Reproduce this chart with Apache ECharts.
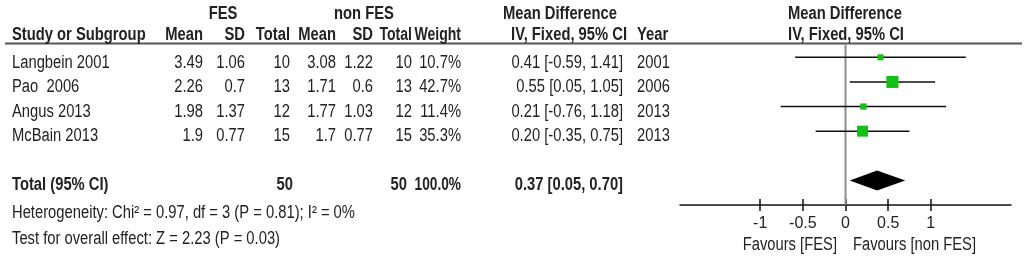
<!DOCTYPE html>
<html>
<head>
<meta charset="utf-8">
<title>Forest plot FES vs non FES</title>
<script src="https://cdn.jsdelivr.net/npm/echarts@6/dist/echarts.min.js"></script>
<style>html,body{margin:0;padding:0;background:#fff;}</style>
</head>
<body>
<div id="main" style="width:1026px;height:263px;"></div>
<script>
// study data
var studies = ['Langbein 2001', 'Pao  2006', 'Angus 2013', 'McBain 2013'];
var fesMean = [3.49, 2.26, 1.98, 1.9];
var fesSD = [1.06, 0.7, 1.37, 0.77];
var fesTotal = [10, 13, 12, 15];
var nonMean = [3.08, 1.71, 1.77, 1.7];
var nonSD = [1.22, 0.6, 1.03, 0.77];
var nonTotal = [10, 13, 12, 15];
var weights = [10.7, 42.7, 11.4, 35.3];
var md = [0.41, 0.55, 0.21, 0.20];
var ciLow = [-0.59, 0.05, -0.76, -0.35];
var ciHigh = [1.41, 1.05, 1.18, 0.75];
var years = [2001, 2006, 2013, 2013];
// pooled result
var pooled = [0.37, 0.05, 0.70];
var pooledTotals = [50, 50];
var pooledWeight = 100.0;
var xTicks = [-1, -0.5, 0, 0.5, 1];
var hetText = 'Heterogeneity: Chi\u00b2 = 0.97, df = 3 (P = 0.81); I\u00b2 = 0%';
var effectText = 'Test for overall effect: Z = 2.23 (P = 0.03)';

var FONT = '"Liberation Sans", Arial, sans-serif';
var INK = '#222';

function txt(x, y, s, align, bold, sx) {
	return {
		type: 'text', x: x, y: y, scaleX: sx || 0.82, silent: true,
		style: {
			text: s, fill: INK,
			font: (bold ? 'bold ' : '') + '18px ' + FONT,
			align: align, verticalAlign: 'middle',
			textAlign: align, textVerticalAlign: 'middle'
		}
	};
}
function ci(m, lo, hi) {
	return m.toFixed(2) + ' [' + lo.toFixed(2) + ', ' + hi.toFixed(2) + ']';
}

// table columns (right edges)
var colMean1 = 203, colSD1 = 245, colTot1 = 290;
var colMean2 = 336, colSD2 = 373, colTot2 = 412;
var colW = 461, colCI = 623, colYear = 637;
var rowY0 = 63, rowStep = 24.5;

var g = [];
g.push({type: 'line', silent: true, shape: {x1: 5, y1: 43.5, x2: 1022, y2: 43.5}, style: {stroke: '#555', lineWidth: 2}});
g.push(txt(223, 14, 'FES', 'center', true));
g.push(txt(364, 14, 'non FES', 'center', true));
g.push(txt(560, 14, 'Mean Difference', 'center', true));
g.push(txt(845, 14, 'Mean Difference', 'center', true));
g.push(txt(12, 35, 'Study or Subgroup', 'left', true));
g.push(txt(colMean1, 35, 'Mean', 'right', true));
g.push(txt(colSD1, 35, 'SD', 'right', true));
g.push(txt(colTot1, 35, 'Total', 'right', true));
g.push(txt(colMean2, 35, 'Mean', 'right', true));
g.push(txt(colSD2, 35, 'SD', 'right', true));
g.push(txt(colTot2, 35, 'Total', 'right', true, 0.78));
g.push(txt(colW, 35, 'Weight', 'right', true, 0.78));
g.push(txt(colCI + 4, 35, 'IV, Fixed, 95% CI', 'right', true));
g.push(txt(colYear, 35, 'Year', 'left', true));
g.push(txt(846, 35, 'IV, Fixed, 95% CI', 'center', true));

for (var i = 0; i < studies.length; i++) {
	var y = rowY0 + i * rowStep;
	g.push(txt(12, y, studies[i], 'left'));
	g.push(txt(colMean1, y, String(fesMean[i]), 'right'));
	g.push(txt(colSD1, y, String(fesSD[i]), 'right'));
	g.push(txt(colTot1, y, String(fesTotal[i]), 'right'));
	g.push(txt(colMean2, y, String(nonMean[i]), 'right'));
	g.push(txt(colSD2, y, String(nonSD[i]), 'right'));
	g.push(txt(colTot2, y, String(nonTotal[i]), 'right'));
	g.push(txt(colW, y, weights[i].toFixed(1) + '%', 'right'));
	g.push(txt(colCI, y, ci(md[i], ciLow[i], ciHigh[i]), 'right'));
	g.push(txt(colYear, y, String(years[i]), 'left'));
}
var yT = rowY0 + 5 * rowStep;
g.push(txt(12, yT, 'Total (95% CI)', 'left', true));
g.push(txt(colTot1 + 3, yT, String(pooledTotals[0]), 'right', true));
g.push(txt(colTot2 - 5, yT, String(pooledTotals[1]), 'right', true));
g.push(txt(colW, yT, pooledWeight.toFixed(1) + '%', 'right', true, 0.76));
g.push(txt(colCI, yT, ci(pooled[0], pooled[1], pooled[2]), 'right', true));
g.push(txt(12, 213, hetText, 'left'));
g.push(txt(12, 239, effectText, 'left'));
g.push(txt(837, 245, 'Favours [FES]', 'right'));
g.push(txt(853, 245, 'Favours [non FES]', 'left'));

var studyData = studies.map(function (s, i) {
	return [md[i], i, ciLow[i], ciHigh[i], weights[i]];
});

var myChart = echarts.init(document.getElementById('main'));
var option = {
	animation: false,
	backgroundColor: '#fff',
	graphic: g,
	grid: {left: 680, right: 15, top: 45, bottom: 58},
	xAxis: [{
		type: 'value', min: -1.94, max: 1.94,
		axisLine: {onZero: false, lineStyle: {color: '#111', width: 1.5}},
		axisTick: {customValues: xTicks, length: 6, inside: false, lineStyle: {color: '#111', width: 1.5}},
		axisLabel: {customValues: xTicks, margin: 11, color: INK, fontSize: 16, fontFamily: FONT},
		splitLine: {show: false}
	}, {
		type: 'value', min: -1.94, max: 1.94, position: 'bottom',
		axisLine: {show: false, onZero: false},
		axisTick: {customValues: xTicks, length: 6, inside: true, lineStyle: {color: '#111', width: 1.5}},
		axisLabel: {show: false},
		splitLine: {show: false}
	}],
	yAxis: {type: 'value', min: -0.5, max: 6, inverse: true, show: false},
	series: [{
		// line of no effect
		type: 'custom',
		data: [[0, -0.5, 6]],
		encode: {x: 0, y: [1, 2]},
		renderItem: function (params, api) {
			var a = api.coord([api.value(0), api.value(1)]);
			var b = api.coord([api.value(0), api.value(2)]);
			return {
				type: 'line',
				shape: {x1: a[0], y1: a[1], x2: b[0], y2: b[1]},
				style: {stroke: '#8c8c8c', lineWidth: 2}
			};
		},
		silent: true,
		z: 1
	}, {
		type: 'custom',
		data: studyData,
		encode: {x: [0, 2, 3], y: 1},
		renderItem: function (params, api) {
			var row = api.value(1);
			var a = api.coord([api.value(2), row]);
			var b = api.coord([api.value(3), row]);
			var c = api.coord([api.value(0), row]);
			var side = 1.85 * Math.sqrt(api.value(4));
			return {
				type: 'group',
				children: [{
					type: 'line',
					shape: {x1: a[0], y1: a[1], x2: b[0], y2: b[1]},
					style: {stroke: '#111', lineWidth: 1.5}
				}, {
					type: 'rect',
					shape: {x: c[0] - side / 2, y: c[1] - side / 2, width: side, height: side},
					style: {fill: '#14c014'}
				}]
			};
		},
		z: 3
	}, {
		type: 'custom',
		data: [[pooled[0], 5, pooled[1], pooled[2]]],
		encode: {x: [0, 2, 3], y: 1},
		renderItem: function (params, api) {
			var row = api.value(1);
			var l = api.coord([api.value(2), row]);
			var r = api.coord([api.value(3), row]);
			var m = api.coord([api.value(0), row]);
			return {
				type: 'polygon',
				shape: {points: [[l[0], l[1]], [m[0], m[1] - 10], [r[0], r[1]], [m[0], m[1] + 10]]},
				style: {fill: '#000'}
			};
		},
		z: 3
	}]
};
myChart.setOption(option);
</script>
</body>
</html>
